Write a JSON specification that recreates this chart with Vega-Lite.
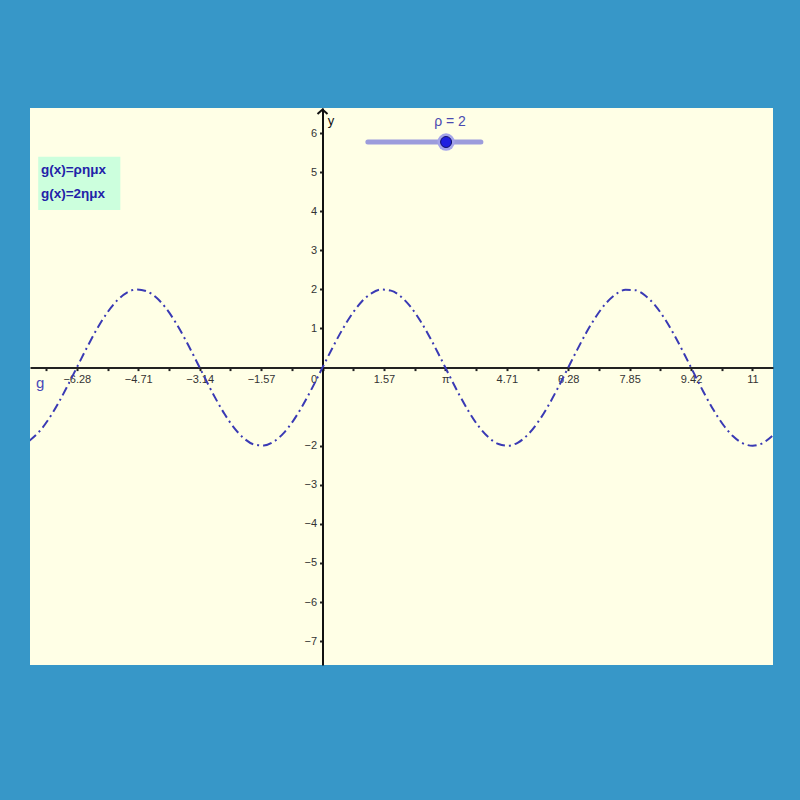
{
  "$schema": "https://vega.github.io/schema/vega-lite/v6.json",
  "width": 743,
  "height": 557,
  "autosize": {"type": "none"},
  "padding": {"left": 30, "top": 108, "right": 27, "bottom": 135},
  "background": "#3797c8",
  "config": {"view": {"fill": "#ffffe6", "stroke": null}},
  "datasets": {
    "curve": [
      {"x": -7.5, "y": -1.876}, {"x": -7.25, "y": -1.646}, {"x": -7, "y": -1.314}, {"x": -6.75, "y": -0.9},
      {"x": -6.5, "y": -0.43}, {"x": -6.25, "y": 0.066}, {"x": -6, "y": 0.559}, {"x": -5.75, "y": 1.017},
      {"x": -5.5, "y": 1.411}, {"x": -5.25, "y": 1.718}, {"x": -5, "y": 1.918}, {"x": -4.75, "y": 1.999},
      {"x": -4.5, "y": 1.955}, {"x": -4.25, "y": 1.79}, {"x": -4, "y": 1.514}, {"x": -3.75, "y": 1.143},
      {"x": -3.5, "y": 0.702}, {"x": -3.25, "y": 0.216}, {"x": -3, "y": -0.282}, {"x": -2.75, "y": -0.763},
      {"x": -2.5, "y": -1.197}, {"x": -2.25, "y": -1.556}, {"x": -2, "y": -1.819}, {"x": -1.75, "y": -1.968},
      {"x": -1.5, "y": -1.995}, {"x": -1.25, "y": -1.898}, {"x": -1, "y": -1.683}, {"x": -0.75, "y": -1.363},
      {"x": -0.5, "y": -0.959}, {"x": -0.25, "y": -0.495}, {"x": 0, "y": 0}, {"x": 0.25, "y": 0.495},
      {"x": 0.5, "y": 0.959}, {"x": 0.75, "y": 1.363}, {"x": 1, "y": 1.683}, {"x": 1.25, "y": 1.898},
      {"x": 1.5, "y": 1.995}, {"x": 1.75, "y": 1.968}, {"x": 2, "y": 1.819}, {"x": 2.25, "y": 1.556},
      {"x": 2.5, "y": 1.197}, {"x": 2.75, "y": 0.763}, {"x": 3, "y": 0.282}, {"x": 3.25, "y": -0.216},
      {"x": 3.5, "y": -0.702}, {"x": 3.75, "y": -1.143}, {"x": 4, "y": -1.514}, {"x": 4.25, "y": -1.79},
      {"x": 4.5, "y": -1.955}, {"x": 4.75, "y": -1.999}, {"x": 5, "y": -1.918}, {"x": 5.25, "y": -1.718},
      {"x": 5.5, "y": -1.411}, {"x": 5.75, "y": -1.017}, {"x": 6, "y": -0.559}, {"x": 6.25, "y": -0.066},
      {"x": 6.5, "y": 0.43}, {"x": 6.75, "y": 0.9}, {"x": 7, "y": 1.314}, {"x": 7.25, "y": 1.646},
      {"x": 7.5, "y": 1.876}, {"x": 7.75, "y": 1.989}, {"x": 8, "y": 1.979}, {"x": 8.25, "y": 1.845},
      {"x": 8.5, "y": 1.597}, {"x": 8.75, "y": 1.249}, {"x": 9, "y": 0.824}, {"x": 9.25, "y": 0.348},
      {"x": 9.5, "y": -0.15}, {"x": 9.75, "y": -0.639}, {"x": 10, "y": -1.088}, {"x": 10.25, "y": -1.47},
      {"x": 10.5, "y": -1.759}, {"x": 10.75, "y": -1.94}, {"x": 11, "y": -2.0}, {"x": 11.25, "y": -1.936},
      {"x": 11.5, "y": -1.751}
    ],
    "box": [{"x": -7.27, "x2": -5.17, "y": 5.39, "y2": 4.03}],
    "boxText": [
      {"x": -7.2, "y": 5.05, "t": "g(x)=ρημx"},
      {"x": -7.2, "y": 4.44, "t": "g(x)=2ημx"}
    ],
    "slider": [{"x": 1.16, "x2": 4.05, "y": 5.77}],
    "sliderPoint": [{"x": 3.16, "y": 5.77}],
    "sliderLabel": [{"x": 3.26, "y": 6.27, "t": "ρ = 2"}],
    "gLabel": [{"x": -7.22, "y": -0.39, "t": "g"}],
    "yLabel": [{"x": 0.22, "y": 6.3, "t": "y"}],
    "arrow": [{"x": 0, "y": 6.6}]
  },
  "encoding": {
    "x": {
      "field": "x", "type": "quantitative",
      "scale": {"domain": [-7.48, 11.52], "nice": false, "zero": false},
      "axis": {
        "title": null, "orient": "bottom", "offset": -297.4, "grid": false,
        "values": [-7.0686, -6.2832, -5.4978, -4.7124, -3.927, -3.1416, -2.3562, -1.5708, -0.7854, 0, 0.7854, 1.5708, 2.3562, 3.1416, 3.927, 4.7124, 5.4978, 6.2832, 7.0686, 7.854, 8.6394, 9.4248, 10.2102, 10.9956],
        "labelExpr": "(round(datum.value/(PI/4))%2!=0) ? '' : round(datum.value/(PI/4))==0 ? '0' : round(datum.value/(PI/4))==4 ? 'π' : round(datum.value/(PI/4))==14 ? '11' : format(datum.value,'.2f')",
        "domainColor": "#222", "domainWidth": 2, "tickColor": "#222", "tickSize": 3, "tickWidth": 2,
        "labelFont": "Liberation Sans", "labelFontSize": 11, "labelColor": "#333", "labelPadding": 3,
        "labelOverlap": false, "labelFlush": false,
        "labelOffset": {"condition": {"test": "datum.value == 0", "value": -9}, "value": 0}
      }
    },
    "y": {
      "field": "y", "type": "quantitative",
      "scale": {"domain": [-7.61, 6.64], "nice": false, "zero": false},
      "axis": {
        "title": null, "orient": "left", "offset": -292.5, "grid": false,
        "values": [-7, -6, -5, -4, -3, -2, 1, 2, 3, 4, 5, 6],
        "labelExpr": "replace(format(datum.value,'d'),'-','−')",
        "domainColor": "#111", "domainWidth": 2, "tickColor": "#222", "tickSize": 3, "tickWidth": 2,
        "labelFont": "Liberation Sans", "labelFontSize": 11, "labelColor": "#333", "labelPadding": 3,
        "labelOverlap": false, "labelFlush": false
      }
    }
  },
  "layer": [
    {
      "data": {"name": "box"},
      "mark": {"type": "rect", "color": "#ccffdd"},
      "encoding": {"x2": {"field": "x2"}, "y2": {"field": "y2"}}
    },
    {
      "data": {"name": "boxText"},
      "mark": {"type": "text", "align": "left", "baseline": "middle", "font": "Liberation Sans", "fontSize": 13.5, "fontWeight": "bold", "color": "#2222a8"},
      "encoding": {"text": {"field": "t"}}
    },
    {
      "data": {"name": "curve"},
      "mark": {"type": "line", "color": "#3a3ab4", "strokeWidth": 2, "strokeDash": [9, 4, 2, 4], "interpolate": "monotone", "clip": true}
    },
    {
      "data": {"name": "slider"},
      "mark": {"type": "rule", "color": "#9c9cdc", "strokeWidth": 5, "strokeCap": "round"},
      "encoding": {"x2": {"field": "x2"}}
    },
    {
      "data": {"name": "sliderPoint"},
      "mark": {"type": "point", "filled": true, "shape": "circle", "size": 300, "color": "#a4a4ea", "opacity": 1}
    },
    {
      "data": {"name": "sliderPoint"},
      "mark": {"type": "point", "filled": true, "shape": "circle", "size": 120, "fill": "#2020e0", "stroke": "#10106a", "strokeWidth": 1, "opacity": 1}
    },
    {
      "data": {"name": "sliderLabel"},
      "mark": {"type": "text", "align": "center", "baseline": "middle", "font": "Liberation Sans", "fontSize": 14, "color": "#4a4ab0"},
      "encoding": {"text": {"field": "t"}}
    },
    {
      "data": {"name": "gLabel"},
      "mark": {"type": "text", "align": "center", "baseline": "middle", "font": "Liberation Sans", "fontSize": 15, "color": "#4848b8"},
      "encoding": {"text": {"field": "t"}}
    },
    {
      "data": {"name": "yLabel"},
      "mark": {"type": "text", "align": "center", "baseline": "middle", "font": "Liberation Sans", "fontSize": 13, "color": "#111"},
      "encoding": {"text": {"field": "t"}}
    },
    {
      "data": {"name": "arrow"},
      "mark": {"type": "point", "shape": "M-1,0.9L0,0L1,0.9", "filled": false, "size": 100, "color": "#111", "strokeWidth": 2, "opacity": 1}
    }
  ]
}
